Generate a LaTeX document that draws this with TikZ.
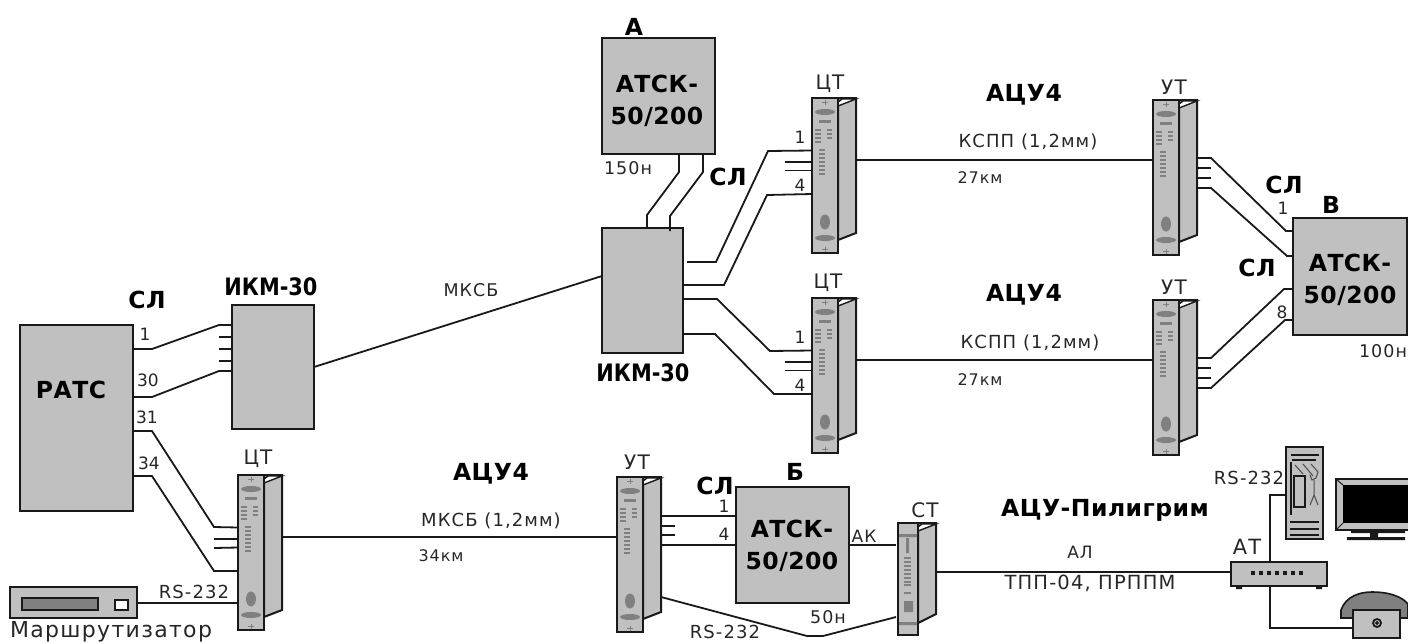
\documentclass[tikz,border=0pt]{standalone}
\usepackage{fontspec}
\setmainfont{DejaVu Sans}
\newfontfamily\thinfont[LetterSpace=6]{DejaVu Sans}
\newfontfamily\boldfont[LetterSpace=2]{DejaVu Sans Bold}
\newfontfamily\condfont[FakeStretch=0.87]{DejaVu Sans Bold}
\usetikzlibrary{calc}
\definecolor{panel}{HTML}{C0C0C0}
\newcommand{\thinsize}[1]{\thinfont\fontsize{#1}{#1}\selectfont}
\tikzset{
  wire/.style={line width=1.8pt,line join=miter,draw=black!90},
  box/.style={draw=black!90,fill=panel,line width=2pt,inner sep=0pt,outer sep=0pt,anchor=north west},
  small/.style={font=\thinsize{#1},inner sep=0pt,text=black!85},
  num/.style={font=\fontsize{17}{18}\selectfont,inner sep=0pt,text=black!85},
  big/.style={font=\boldfont\fontsize{23.5}{32}\selectfont,inner sep=0pt,align=center},
  cond/.style={font=\condfont\fontsize{24}{30}\selectfont,inner sep=0pt},
  rackmark/.style={fill=black!50,draw=none},
  rackline/.style={draw=black!50,line width=1.4pt},
  rack/.pic={
    \draw[line width=2pt,draw=black!90,fill=panel] (26,0) -- (44,0) -- (44,135) -- (26,142) -- cycle;
    \draw[line width=1.4pt,draw=black!90,fill=white] (26,4) -- (26,8) -- (44,1) -- (30,1) -- cycle;
    \draw[line width=2pt,draw=black!90,fill=panel] (0,0) rectangle (26,155);
    \draw[rackline,line width=1pt] (10,4) -- (16,4) (13,1.5) -- (13,6.5) (10,151) -- (16,151) (13,148.5) -- (13,153.5);
    \fill[rackmark] (13,14) ellipse (10 and 3) (13,140) ellipse (10 and 3) (13,124) ellipse (5 and 7.5);
    \fill[rackmark] (7,21.5) rectangle (19,25);
    \foreach \yy in {32,36,40,44} \draw[rackline] (3,\yy) -- (9,\yy);
    \foreach \yy in {32,36,40} \draw[rackline] (15,\yy) -- (20,\yy);
    \foreach \yy in {52,56,60,64,68,72,76} \draw[rackline] (7,\yy) -- (13,\yy);
    \coordinate (-p1) at (0,52.5); \coordinate (-p2) at (0,64); \coordinate (-p3) at (0,72.5); \coordinate (-p4) at (0,96);
    \coordinate (-in) at (0,60); \coordinate (-out) at (44,62);
    \coordinate (-r1) at (44,58); \coordinate (-r2) at (44,68); \coordinate (-r3) at (44,78); \coordinate (-r4) at (44,88);
    \coordinate (-s1) at (44,39); \coordinate (-s2) at (44,49); \coordinate (-s3) at (44,58); \coordinate (-s4) at (44,68);
    \coordinate (-rs) at (44,120);
  },
  srack/.pic={
    \draw[line width=2pt,draw=black!90,fill=panel] (20,0) -- (38,0) -- (38,91) -- (20,100) -- cycle;
    \draw[line width=1.4pt,draw=black!90,fill=white] (20,4) -- (20,8) -- (38,1) -- (24,1) -- cycle;
    \draw[line width=2pt,draw=black!90,fill=panel] (0,0) rectangle (20,112);
    \fill[black!50] (1,11) rectangle (19,14) (1,99) rectangle (19,102);
    \fill[rackmark] (8,15) rectangle (11,30) (6,78) rectangle (15,89);
    \foreach \yy in {35,39,43,47,51,55,59,62,70} \draw[rackline] (6,\yy) -- (13,\yy);
    \coordinate (-in) at (-2,22); \coordinate (-rs) at (-2,94); \coordinate (-out) at (38,49);
  }
}
\begin{document}
\begin{tikzpicture}[x=1pt,y=-1pt]
\useasboundingbox (0,0) rectangle (1408,643);
% boxes
\node[box,minimum width=113pt,minimum height=116pt] (a) at (602,38) {};
\node[box,minimum width=81pt,minimum height=125pt] (ikmb) at (602,228) {};
\node[box,minimum width=113pt,minimum height=186pt] (ratc) at (20,325) {};
\node[box,minimum width=82pt,minimum height=124pt] (ikma) at (232,305) {};
\node[box,minimum width=113pt,minimum height=116pt] (b) at (736,487) {};
\node[box,minimum width=114pt,minimum height=117pt] (v) at (1293,218) {};
% racks
\pic (ct1) at (812,98) {rack};
\pic (ct2) at (812,298) {rack};
\pic (ut1) at (1153,100) {rack};
\pic (ut2) at (1153,300) {rack};
\pic (ct3) at (238,475) {rack};
\pic (ut3) at (617,477) {rack};
\pic (st) at (898,523) {srack};
% router
\node[box,minimum width=127pt,minimum height=31pt] (router) at (10,587) {};
\node[box,fill=black!50,minimum width=76pt,minimum height=12pt] (routerslot) at (22,598) {};
\node[box,fill=white,minimum width=13pt,minimum height=10pt] (routerled) at (115,600) {};
% AT modem
\node[box,minimum width=96pt,minimum height=24pt] (at) at (1231,562) {};
\fill[black!90] (1236,586) rectangle (1242,589) (1316,586) rectangle (1322,589);
\foreach \xx in {1253,1261,1269,1277,1285,1293,1301} \fill[black!90] (\xx-1.8,571.2) rectangle (\xx+1.8,574.8);
% computer
\node[box,minimum width=37pt,minimum height=92pt] (pc) at (1286,447) {};
\draw[black!90,line width=1.5pt] (1291,455) -- (1319,455) (1292,460) -- (1316,460) (1291,462) -- (1291,515)
  (1290,522) -- (1319,522) (1290,529) -- (1319,529) (1290,535) -- (1319,535);
\draw[black!90,line width=1.3pt] (1294,476) rectangle (1305,507);
\draw[black!70,line width=1pt] (1295,465) -- (1303,474) (1303,464) -- (1313,476) (1311,464) -- (1318,472) -- (1316,478) -- (1312,480) -- (1310,475) (1314,480) -- (1314,495) -- (1310,505) (1314,495) -- (1318,505);
% monitor
\fill[panel] (1336,479) rectangle (1408,530);
\draw[black!90,line width=2pt] (1408,479) -- (1336,479) -- (1336,530) -- (1408,530);
\fill[black] (1343,485) rectangle (1408,523);
\draw[black!90,line width=1pt] (1336,479) -- (1343,485) (1336,530) -- (1343,523);
\fill[black!90] (1351,530) rectangle (1405,533) (1370,533) rectangle (1378,537) (1347,537) rectangle (1405,540);
% phone
\draw[black!90,line width=1.6pt,fill=black!50] (1341,618) -- (1341,610) .. controls (1346,596) and (1360,592) .. (1372,592) .. controls (1392,592) and (1403,598) .. (1408,604) -- (1408,618) -- cycle;
\node[box,minimum width=47pt,minimum height=28pt] (phone) at (1353,610) {};
\draw[black!90,line width=1.8pt] (1377,623) circle (4);
\draw[black!90,line width=1.2pt] (1377,623) circle (1.2);
% wires
\begin{scope}[wire]
\draw (ratc.east |- 0,349) -- (152,349) -- (219,325) -- (ikma.west |- 0,325);
\draw (ratc.east |- 0,397) -- (152,397) -- (219,371) -- (ikma.west |- 0,371);
\draw (ikma.west |- 0,337) -- (219,337) (ikma.west |- 0,349) -- (219,349) (ikma.west |- 0,361) -- (219,361);
\draw (ratc.east |- 0,431) -- (152,431) -- (214,527) -- (ct3-p1);
\draw (ratc.east |- 0,476) -- (152,476) -- (214,571) -- (ct3-p4);
\draw (ct3-p2) -- (214,539) (ct3-p3) -- (214,548);
\draw (ikma.east |- 0,367) -- (ikmb.west |- 0,276);
\draw (ct3-out) -- (ut3-in);
\draw (ut3-s1) -- (b.west |- 0,516);
\draw (ut3-s4) -- (b.west |- 0,545);
\draw (ut3-s2) -- ++(14,0) (ut3-s3) -- ++(14,0);
\draw (b.east |- 0,545) -- (st-in |- 0,545);
\draw (ut3-rs) -- (807,636) -- (823,636) -- (st-rs);
\draw (st-out) -- (at.west |- 0,572);
\draw (at.north -| 1270,0) -- (1270,495) -- (pc.west |- 0,495);
\draw (at.south -| 1270,0) -- (1270,628) -- (phone.west |- 0,628);
\draw (router.east |- 0,603) -- (ct3-p1 |- 0,603);
\draw (a.south -| 679,0) -- (679,172) -- (647,215) -- (ikmb.north -| 647,0);
\draw (a.south -| 703,0) -- (703,172) -- (670,216) -- (670,231);
\draw (687,262) -- (716,262) -- (768,151) -- (ct1-p1);
\draw (ikmb.east |- 0,285) -- (724,285) -- (767,195) -- (ct1-p4);
\draw (ct1-p2) -- ++(-27,0) (ct1-p3) -- ++(-27,0);
\draw (ikmb.east |- 0,299) -- (717,299) -- (770,351) -- (ct2-p1);
\draw (ikmb.east |- 0,334) -- (715,334) -- (774,394) -- (ct2-p4);
\draw (ct2-p2) -- ++(-27,0) (ct2-p3) -- ++(-27,0);
\draw (ct1-out) -- (ut1-in);
\draw (ct2-out) -- (ut2-in);
\draw (ut1-r1) -- (1211,158) -- (1286,231) -- (v.west |- 0,231);
\draw (ut1-r4) -- (1211,188) -- (1287,256) -- (v.west |- 0,256);
\draw (ut1-r2) -- ++(14,0) (ut1-r3) -- ++(14,0);
\draw (ut2-r1) -- (1211,358) -- (1284,289) -- (v.west |- 0,289);
\draw (ut2-r4) -- (1211,388) -- (1285,320) -- (v.west |- 0,320);
\draw (ut2-r2) -- ++(14,0) (ut2-r3) -- ++(14,0);
\end{scope}
% bold labels
\node[big] (t1) at (657,101) {АТСК-\\50/200};
\node[big] (t2) at (792,546) {АТСК-\\50/200};
\node[big] (t3) at (1350,280) {АТСК-\\50/200};
\node[big] (t4) at (634,27) {А};
\node[big] (t5) at (795,472) {Б};
\node[big] (t6) at (1331,205) {В};
\node[big] (t7) at (71,390) {РАТС};
\node[big] (t8) at (147,300) {СЛ};
\node[big] (t9) at (728,177) {СЛ};
\node[big] (t10) at (1284,185) {СЛ};
\node[big] (t11) at (1257,268) {СЛ};
\node[big] (t12) at (715,486) {СЛ};
\node[cond] (t13) at (271,287) {ИКМ-30};
\node[cond] (t14) at (643,373) {ИКМ-30};
\node[big] (t15) at (1024,95) {АЦУ4};
\node[big] (t16) at (1024,295) {АЦУ4};
\node[big] (t17) at (491,474) {АЦУ4};
\node[big] (t18) at (1105,510) {АЦУ-Пилигрим};
% small labels
\node[small=17.5] (n1) at (628,168) {150н};
\node[small=17.5] (n2) at (1383,351) {100н};
\node[small=17.5] (n3) at (828,617) {50н};
\node[small=20] (n4) at (830,84) {ЦТ};
\node[small=20] (n5) at (828,283) {ЦТ};
\node[small=20] (n6) at (258,459) {ЦТ};
\node[small=20] (n7) at (1174,87) {УТ};
\node[small=20] (n8) at (1174,287) {УТ};
\node[small=20] (n9) at (637,462) {УТ};
\node[small=18] (n10) at (1028,142) {КСПП (1,2мм)};
\node[small=18] (n11) at (1030,343) {КСПП (1,2мм)};
\node[small=18] (n12) at (491,521) {МКСБ (1,2мм)};
\node[small=16] (n13) at (980,178) {27км};
\node[small=16] (n14) at (980,380) {27км};
\node[small=16] (n15) at (441,556) {34км};
\node[small=17.5] (n16) at (471,290) {МКСБ};
\node[small=17] (n17) at (864,536) {АК};
\node[small=18] (n18) at (725,632) {RS-232};
\node[small=18] (n19) at (1249,478) {RS-232};
\node[small=18] (n20) at (194,592) {RS-232};
\node[small=17] (n21) at (1080,552) {АЛ};
\node[small=19.5] (n22) at (1090,583) {ТПП-04, ПРППМ};
\node[small=20] (n23) at (925,510) {СТ};
\node[small=21] (n24) at (1247,547) {АТ};
\node[small=22] (n25) at (111,632) {Маршрутизатор};
\node[num] (m1) at (145,334) {1};
\node[num] (m2) at (148,380) {30};
\node[num] (m3) at (147,417) {31};
\node[num] (m4) at (149,463) {34};
\node[num] (m5) at (800,137) {1};
\node[num] (m6) at (800,185) {4};
\node[num] (m7) at (800,337) {1};
\node[num] (m8) at (800,385) {4};
\node[num] (m9) at (724,506) {1};
\node[num] (m10) at (724,534) {4};
\node[num] (m11) at (1283,208) {1};
\node[num] (m12) at (1282,312) {8};
\end{tikzpicture}
\end{document}
